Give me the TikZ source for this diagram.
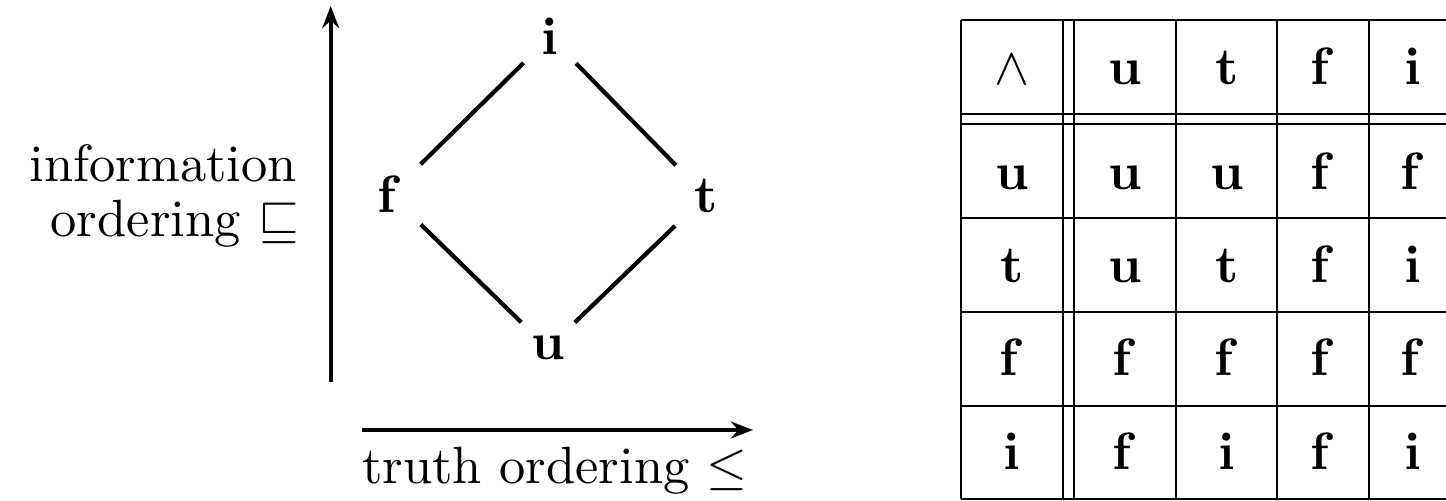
\documentclass[tikz,border=0pt]{standalone}
\usepackage{amssymb}
\usetikzlibrary{arrows.meta}
\begin{document}
\begin{tikzpicture}[x=0.190476pt,y=-0.190476pt,
  lat/.style={inner sep=0pt,anchor=base},
  edge/.style={line width=0.8pt},
  axis/.style={line width=0.8pt,-{Stealth[length=4.2pt,width=3.2pt,inset=1.4pt]}},
  rule/.style={line width=0.45pt},
  lbl/.style={inner sep=0pt,anchor=base east},
  cell/.style={inner sep=0pt,anchor=base}]
\useasboundingbox (0,0) rectangle (1446,501);
\clip (0,0) rectangle (1446,501);
% lattice
\node[lat] (i) at (550,55) {$\mathbf{i}$};
\node[lat] (f) at (390,212.7) {$\mathbf{f}$};
\node[lat] (t) at (706,212.7) {$\mathbf{t}$};
\node[lat] (u) at (548,360) {$\mathbf{u}$};
\draw[edge,shorten <=7.1pt,shorten >=8.2pt] (i.center) -- (f.center);
\draw[edge,shorten <=7.1pt,shorten >=8.2pt] (i.center) -- (t.center);
\draw[edge,shorten <=7.1pt,shorten >=8.2pt] (u.center) -- (f.center);
\draw[edge,shorten <=7.1pt,shorten >=8.2pt] (u.center) -- (t.center);
% axes
\coordinate (vb) at (330.7,382.5);
\coordinate (vt) at (330.7,6);
\draw[axis] (vb) -- (vt);
\coordinate (hl) at (362,430);
\coordinate (hr) at (753,430);
\draw[axis] (hl) -- (hr);
\node[lbl] (info1) at (298,182) {information};
\node[lbl] (info2) at (300,236.5) {ordering $\sqsubseteq$};
\node[inner sep=0pt,anchor=base] (truth) at (555,484) {truth ordering $\leq$};
% table rules
\foreach \xx in {960.7,1063,1074,1176,1277.3,1368.7}
  \draw[rule] (\xx,20) -- (\xx,499);
\foreach \yy in {20,114,124,218.3,312.3,406,499}
  \draw[rule] (960.5,\yy) -- (1460,\yy);
% table cells
\node[cell] (c00) at (1012,85) {$\wedge$};
\node[cell] (c01) at (1125,85) {$\mathbf{u}$};
\node[cell] (c02) at (1227,85) {$\mathbf{t}$};
\node[cell] (c03) at (1323,85) {$\mathbf{f}$};
\node[cell] (c04) at (1413,85) {$\mathbf{i}$};
\node[cell] (c10) at (1012,189.3) {$\mathbf{u}$};
\node[cell] (c11) at (1125,189.3) {$\mathbf{u}$};
\node[cell] (c12) at (1227,189.3) {$\mathbf{u}$};
\node[cell] (c13) at (1323,189.3) {$\mathbf{f}$};
\node[cell] (c14) at (1413,189.3) {$\mathbf{f}$};
\node[cell] (c20) at (1012,282.7) {$\mathbf{t}$};
\node[cell] (c21) at (1125,282.7) {$\mathbf{u}$};
\node[cell] (c22) at (1227,282.7) {$\mathbf{t}$};
\node[cell] (c23) at (1323,282.7) {$\mathbf{f}$};
\node[cell] (c24) at (1413,282.7) {$\mathbf{i}$};
\node[cell] (c30) at (1012,375.7) {$\mathbf{f}$};
\node[cell] (c31) at (1125,375.7) {$\mathbf{f}$};
\node[cell] (c32) at (1227,375.7) {$\mathbf{f}$};
\node[cell] (c33) at (1323,375.7) {$\mathbf{f}$};
\node[cell] (c34) at (1413,375.7) {$\mathbf{f}$};
\node[cell] (c40) at (1012,469.3) {$\mathbf{i}$};
\node[cell] (c41) at (1125,469.3) {$\mathbf{f}$};
\node[cell] (c42) at (1227,469.3) {$\mathbf{i}$};
\node[cell] (c43) at (1323,469.3) {$\mathbf{f}$};
\node[cell] (c44) at (1413,469.3) {$\mathbf{i}$};
\end{tikzpicture}
\end{document}
